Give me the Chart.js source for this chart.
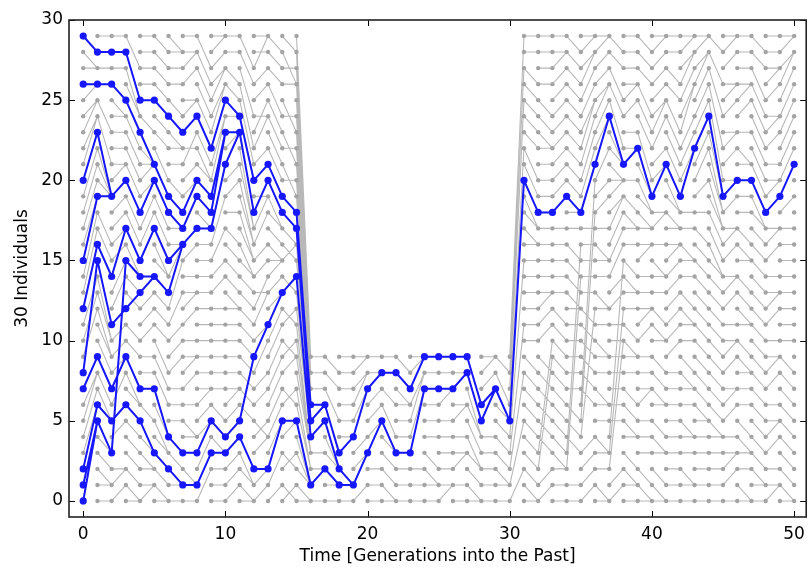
<!DOCTYPE html>
<html>
<head>
<meta charset="utf-8">
<script src="https://cdn.jsdelivr.net/npm/chart.js@4.4.1/dist/chart.umd.min.js"></script>
<style>
  html, body { margin: 0; padding: 0; background: #fff; }
</style>
</head>
<body>
<canvas id="genealogy" width="812" height="568"></canvas>
<script>
// population size per generation (t = 0..50), bottleneck from 16 to 30
const popSize = [
  30,30,30,30,30,30,30,30,30,30,30,30,30,30,30,30,
  10,10,10,10,10,10,10,10,10,10,10,10,10,10,10,
  30,30,30,30,30,30,30,30,30,30,30,30,30,30,30,30,30,30,30,30
];

// parents[t][i] = index of the parent (generation t+1) of individual i in generation t
const parents = [
  [5,5,6,6,7,8,8,9,15,12,13,14,16,17,18,19,19,20,21,22,23,24,24,25,25,26,26,27,27,28],
  [0,1,1,2,3,3,5,5,6,7,8,9,9,10,10,11,14,15,16,19,19,19,19,19,21,23,26,27,28,29],
  [1,2,2,15,5,6,8,9,9,10,11,12,14,15,17,16,17,18,19,20,21,21,22,23,24,24,25,27,28,29],
  [0,0,1,2,3,4,5,6,6,7,9,10,13,12,13,14,14,15,16,17,18,19,20,21,22,23,24,24,25,27],
  [1,1,2,2,3,3,5,7,8,9,11,12,13,14,14,17,18,19,20,20,21,21,21,21,23,25,26,27,28,29],
  [0,0,1,2,3,3,4,4,6,7,8,10,11,12,13,14,14,15,16,17,18,19,20,22,23,24,25,26,27,28],
  [0,1,1,2,3,5,6,7,9,10,11,13,15,16,16,16,16,17,17,18,19,21,22,22,23,24,26,27,28,28],
  [0,1,1,3,4,4,6,8,9,9,10,12,13,13,14,16,17,19,20,20,21,23,22,24,25,25,27,28,28,29],
  [2,3,4,5,5,6,7,7,8,9,10,11,12,13,14,15,16,17,17,18,19,20,20,21,22,23,24,25,26,27],
  [0,1,2,3,3,4,5,7,8,9,10,11,12,14,15,17,19,21,23,23,24,24,25,26,26,27,27,28,29,29],
  [1,2,3,4,5,6,7,7,8,9,10,11,12,12,13,14,15,16,18,20,21,23,23,23,24,24,25,26,28,29],
  [0,0,1,1,2,9,5,6,7,8,9,10,11,12,13,14,14,15,15,16,16,17,17,18,20,21,22,24,26,27],
  [1,2,2,4,5,4,7,8,10,11,11,13,14,13,15,16,18,19,20,19,21,22,24,25,24,26,27,29,28,29],
  [1,3,5,5,6,7,8,9,10,11,12,13,13,14,15,15,15,16,17,17,18,19,20,21,22,23,24,26,27,28],
  [1,0,3,2,5,5,7,6,9,10,9,12,11,14,13,16,15,16,17,18,20,19,22,21,24,23,26,27,26,28],
  [0,0,1,1,1,1,2,2,3,3,3,3,4,4,4,5,5,5,6,6,6,7,7,7,8,8,8,9,9,9],
  [0,2,2,3,5,6,6,7,8,9],
  [0,1,1,2,2,2,3,5,7,8],
  [0,1,1,4,4,5,6,7,8,9],
  [1,3,3,4,7,7,8,8,9,9],
  [0,1,2,5,5,6,7,8,8,9],
  [0,0,1,2,3,3,4,6,8,9],
  [0,1,2,3,4,5,6,6,7,8],
  [0,1,2,7,7,8,8,9,9,9],
  [0,1,1,2,4,5,6,7,8,9],
  [1,1,2,3,4,5,7,7,8,9],
  [0,1,3,3,4,6,6,8,8,9],
  [0,0,1,2,2,3,4,4,5,6],
  [0,1,2,3,4,7,7,8,9,9],
  [0,1,1,2,3,4,5,5,6,8],
  [2,5,8,11,15,20,22,25,27,29],
  [0,0,1,2,3,4,5,6,7,8,10,11,12,13,14,15,16,16,17,17,18,19,20,22,23,24,25,26,28,29],
  [1,2,9,10,3,4,5,6,7,8,11,12,13,13,14,15,16,17,18,19,20,21,22,22,23,24,26,27,28,29],
  [0,1,2,2,3,4,5,6,7,8,9,10,11,13,14,15,16,17,19,20,21,22,23,24,25,26,27,28,28,29],
  [0,1,14,16,3,4,5,7,8,9,10,11,12,12,13,14,15,17,18,18,19,20,21,22,23,24,25,26,27,28],
  [1,2,3,4,12,18,20,6,7,8,9,10,11,13,14,15,16,17,21,22,23,24,25,25,26,27,28,28,29,29],
  [0,0,2,3,3,5,6,6,8,9,9,11,12,12,14,15,15,17,19,20,22,24,24,25,26,26,27,28,29,29],
  [1,2,10,12,15,5,6,7,8,9,10,11,13,14,16,17,18,19,19,20,20,20,21,21,21,22,24,25,27,28],
  [0,1,1,2,4,4,5,6,8,9,9,10,12,13,13,14,16,17,17,18,20,22,22,23,25,26,26,27,28,29],
  [0,0,1,3,4,5,7,7,8,9,11,12,12,13,14,16,16,17,17,18,18,19,19,20,22,23,24,26,27,28],
  [0,0,1,3,3,4,6,6,7,8,10,10,11,13,14,14,16,18,18,21,21,22,24,25,25,26,27,28,29,29],
  [0,1,2,3,4,5,6,7,8,10,11,12,13,14,15,16,16,17,17,18,18,19,20,21,22,23,25,26,28,29],
  [0,1,1,3,4,4,6,7,7,8,10,11,11,12,14,15,15,17,18,22,22,23,24,26,26,27,28,28,29,29],
  [0,1,2,3,4,5,5,6,7,8,9,10,11,12,13,14,15,16,18,20,22,23,24,25,26,27,28,28,29,29],
  [0,1,2,3,4,4,5,6,7,8,9,10,11,12,13,14,14,15,16,17,17,18,18,19,19,20,22,24,26,28],
  [0,2,3,3,4,6,7,7,9,10,10,11,13,14,14,16,17,17,19,20,20,22,23,23,25,26,26,28,29,29],
  [0,0,2,3,3,4,6,7,8,8,9,11,11,12,13,15,15,16,18,19,20,21,21,23,25,26,26,27,28,29],
  [0,1,1,2,3,4,5,6,7,8,9,10,11,12,13,14,15,16,17,17,18,19,20,21,22,23,24,25,27,28],
  [1,1,2,4,5,5,6,8,9,9,10,12,13,13,14,16,17,17,19,20,20,21,23,24,24,26,27,27,28,29],
  [0,0,1,2,3,4,5,6,7,8,10,11,12,13,14,15,16,17,19,21,22,23,24,25,26,27,28,28,29,29]
];

// sampled individuals at t = 0 whose lineages are traced in blue
const samples = [0, 1, 2, 7, 8, 12, 15, 20, 26, 29];

const xTicks = [0, 10, 20, 30, 40, 50];
const yTicks = [0, 5, 10, 15, 20, 25, 30];

// gray dots for every individual
const dots = [];
popSize.forEach((n, t) => {
  for (let i = 0; i < n; i++) dots.push({x: t, y: i});
});

// gray parent links, broken with null points
const links = [];
parents.forEach((row, t) => {
  row.forEach((p, i) => {
    links.push({x: t, y: i}, {x: t + 1, y: p}, {x: t + 1, y: null});
  });
});

// blue lineages followed back through the parents, each edge and node kept once
const blueLinks = [];
const blueDots = [];
const seenLink = new Set();
const seenDot = new Set();
samples.forEach(s => {
  let cur = s;
  if (!seenDot.has('0,' + s)) { seenDot.add('0,' + s); blueDots.push({x: 0, y: s}); }
  parents.forEach((row, t) => {
    const next = row[cur];
    const k = t + ',' + cur;
    if (!seenLink.has(k)) {
      seenLink.add(k);
      blueLinks.push({x: t, y: cur}, {x: t + 1, y: next}, {x: t + 1, y: null});
    }
    const d = (t + 1) + ',' + next;
    if (!seenDot.has(d)) { seenDot.add(d); blueDots.push({x: t + 1, y: next}); }
    cur = next;
  });
});

const blue = '#1717ff';

const datasets = [
  {
    data: blueDots,
    showLine: false,
    pointRadius: 3.6,
    pointBackgroundColor: blue,
    pointBorderWidth: 0,
    order: 0
  },
  {
    data: blueLinks,
    showLine: true,
    spanGaps: false,
    borderColor: blue,
    borderWidth: 2,
    pointRadius: 0,
    order: 1
  },
  {
    data: dots,
    showLine: false,
    pointRadius: 2.2,
    pointBackgroundColor: '#a4a4a4',
    pointBorderWidth: 0,
    order: 2
  },
  {
    data: links,
    showLine: true,
    spanGaps: false,
    borderColor: '#b8b8b8',
    borderWidth: 1.1,
    pointRadius: 0,
    order: 3
  }
];

// box around the plot and inward ticks on all four sides
const frame = {
  id: 'frame',
  afterDraw(chart) {
    const {ctx, chartArea: a, scales: {x, y}} = chart;
    ctx.save();
    ctx.strokeStyle = '#000';
    ctx.lineWidth = 1;
    ctx.beginPath();
    xTicks.forEach(v => {
      const px = Math.round(x.getPixelForValue(v)) + 0.5;
      ctx.moveTo(px, a.bottom); ctx.lineTo(px, a.bottom - 6);
      ctx.moveTo(px, a.top); ctx.lineTo(px, a.top + 6);
    });
    yTicks.forEach(v => {
      const py = Math.round(y.getPixelForValue(v)) + 0.5;
      ctx.moveTo(a.left, py); ctx.lineTo(a.left + 6, py);
      ctx.moveTo(a.right, py); ctx.lineTo(a.right - 6, py);
    });
    ctx.stroke();
    ctx.lineWidth = 1.6;
    ctx.strokeStyle = '#222';
    ctx.strokeRect(a.left, a.top, a.right - a.left, a.bottom - a.top);
    ctx.restore();
  }
};

const font = {family: 'DejaVu Sans', size: 17};

new Chart(document.getElementById('genealogy'), {
  type: 'scatter',
  data: {datasets: datasets},
  plugins: [frame],
  options: {
    responsive: false,
    animation: false,
    devicePixelRatio: 1,
    layout: {padding: {left: 0, right: 4, top: 20, bottom: 0}},
    plugins: {legend: {display: false}, tooltip: {enabled: false}},
    scales: {
      x: {
        type: 'linear',
        min: -1,
        max: 50.85,
        afterBuildTicks: s => { s.ticks = xTicks.map(v => ({value: v})); },
        afterFit: s => { s.height = 51; },
        grid: {display: false, drawTicks: false},
        border: {display: false},
        ticks: {font: font, color: '#000', padding: 7, maxRotation: 0},
        title: {display: true, text: 'Time [Generations into the Past]', font: font, color: '#000', padding: {top: 0, bottom: 1}}
      },
      y: {
        type: 'linear',
        min: -1,
        max: 30,
        afterBuildTicks: s => { s.ticks = yTicks.map(v => ({value: v})); },
        afterFit: s => { s.width = 69; },
        grid: {display: false, drawTicks: false},
        border: {display: false},
        ticks: {font: font, color: '#000', padding: 6},
        title: {display: true, text: '30 Individuals', font: font, color: '#000', padding: {top: 12, bottom: 0}}
      }
    }
  }
});
</script>
</body>
</html>
